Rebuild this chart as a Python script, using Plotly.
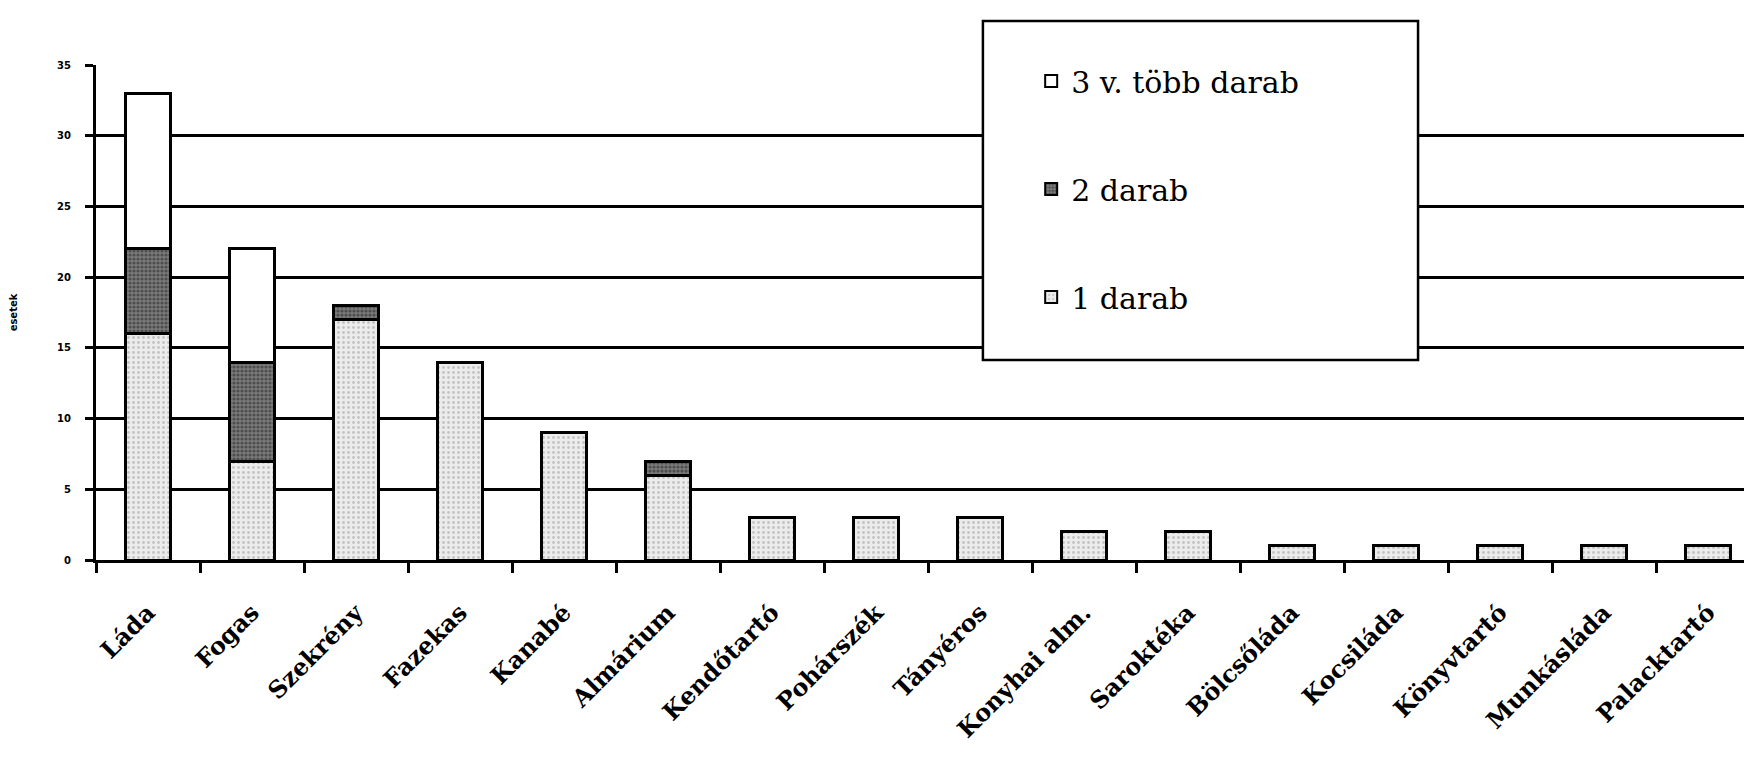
import plotly.graph_objects as go

categories = ["Láda", "Fogas", "Szekrény", "Fazekas", "Kanabé", "Almárium",
              "Kendőtartó", "Pohárszék", "Tányéros", "Konyhai alm.", "Saroktéka",
              "Bölcsőláda", "Kocsiláda", "Könyvtartó", "Munkásláda", "Palacktartó"]
one_piece = [16, 7, 17, 14, 9, 6, 3, 3, 3, 2, 2, 1, 1, 1, 1, 1]
two_pieces = [6, 7, 1, None, None, 1, None, None, None, None, None, None, None, None, None, None]
three_plus = [11, 8, None, None, None, None, None, None, None, None, None, None, None, None, None, None]

series_names = ["1 darab", "2 darab", "3 v. több darab"]
y_ticks = [0, 5, 10, 15, 20, 25, 30, 35]

fig = go.Figure()
fig.add_trace(go.Bar(
    x=categories, y=one_piece, name=series_names[0], legendgroup="g1", legendrank=3,
    marker=dict(color="#e6e6e6", line=dict(color="black", width=3),
                pattern=dict(shape=".", fgcolor="#9a9a9a", bgcolor="#ececec", size=5, solidity=0.25)),
))
fig.add_trace(go.Bar(
    x=categories, y=two_pieces, name=series_names[1], legendgroup="g2", legendrank=2,
    marker=dict(color="#555555", line=dict(color="black", width=3),
                pattern=dict(shape=".", fgcolor="#222222", bgcolor="#7a7a7a", size=4, solidity=0.5)),
))
fig.add_trace(go.Bar(
    x=categories, y=three_plus, name=series_names[2], legendgroup="g3", legendrank=1,
    marker=dict(color="white", line=dict(color="black", width=3)),
))

fig.update_layout(
    barmode="stack",
    bargap=0.57,
    width=1752, height=781,
    margin=dict(l=88, r=0, t=57, b=229),
    paper_bgcolor="white", plot_bgcolor="white",
    showlegend=True,
    legend=dict(
        x=0.562, y=1.02, xanchor="left", yanchor="top",
        bgcolor="rgba(0,0,0,0)", borderwidth=0,
        traceorder="grouped", tracegroupgap=66,
        font=dict(family="DejaVu Serif", size=30, color="black"),
        itemsizing="constant",
    ),
    shapes=[dict(type="rect", xref="paper", yref="paper",
                 x0=0.533, x1=0.7945, y0=0.404, y1=1.089,
                 fillcolor="white", line=dict(color="black", width=2.5), layer="above")],
    xaxis=dict(
        type="category", tickson="boundaries", ticks="outside", ticklen=10, tickwidth=2.5,
        tickcolor="black", showline=True, linecolor="black", linewidth=3,
        tickangle=-45, ticklabelstandoff=26,
        tickfont=dict(family="DejaVu Serif", size=24, color="black", weight="bold"),
        showgrid=False,
    ),
    yaxis=dict(
        range=[0, 35], tickvals=y_ticks, ticks="outside", ticklen=8, tickwidth=2.5,
        tickcolor="black", showline=True, linecolor="black", linewidth=3,
        showgrid=True, gridcolor="black", gridwidth=2.5, zeroline=False,
        ticklabelstandoff=12,
        tickfont=dict(family="DejaVu Sans", size=10, color="black", weight="bold"),
        title=dict(text="esetek", font=dict(family="DejaVu Sans", size=10, color="black", weight="bold"), standoff=38),
    ),
)

fig.write_html("out.html")
